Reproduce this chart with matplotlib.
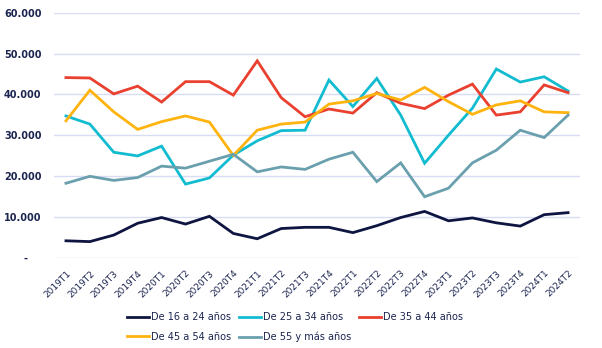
import numpy as np
import matplotlib.pyplot as plt
from matplotlib.ticker import FuncFormatter

quarters = ["2019T1", "2019T2", "2019T3", "2019T4", "2020T1", "2020T2", "2020T3", "2020T4",
            "2021T1", "2021T2", "2021T3", "2021T4", "2022T1", "2022T2", "2022T3", "2022T4",
            "2023T1", "2023T2", "2023T3", "2023T4", "2024T1", "2024T2"]

de_16_24 = [4100, 3900, 5500, 8400, 9800, 8200, 10100, 5900, 4600, 7100, 7400,
            7400, 6100, 7800, 9800, 11300, 9000, 9700, 8500, 7700, 10500, 11000]
de_25_34 = [34700, 32700, 25800, 24900, 27300, 18000, 19500, 25100, 28600, 31100, 31200,
            43500, 37000, 43900, 34900, 23100, 30000, 36600, 46200, 43000, 44300, 40800]
de_35_44 = [44100, 44000, 40100, 42000, 38100, 43100, 43100, 39800, 48200, 39200, 34500,
            36400, 35400, 40400, 37800, 36500, 39800, 42500, 34900, 35700, 42300, 40400]
de_45_54 = [33500, 41000, 35700, 31400, 33300, 34700, 33200, 25000, 31200, 32700, 33200,
            37600, 38400, 40200, 38600, 41700, 38200, 35100, 37400, 38400, 35700, 35500]
de_55_mas = [18200, 19900, 18900, 19600, 22400, 21900, 23600, 25300, 21000, 22200, 21600,
             24100, 25800, 18600, 23200, 14900, 17000, 23200, 26300, 31200, 29400, 34900]

series = [
    ("De 16 a 24 años", de_16_24, "#0e1540"),
    ("De 25 a 34 años", de_25_34, "#12bcd0"),
    ("De 35 a 44 años", de_35_44, "#e9402f"),
    ("De 45 a 54 años", de_45_54, "#ffb30f"),
    ("De 55 y más años", de_55_mas, "#6aa0ae"),
]

text_color = "#1c2550"
plt.rcParams["font.family"] = ["DejaVu Sans"]

fig = plt.figure(figsize=(6.02, 3.48), dpi=100)
ax = fig.add_axes([0.0897, 0.26, 0.8738, 0.7035])

x = np.arange(len(quarters))
handles = []
for name, vals, color in series:
    h, = ax.plot(x, vals, color=color, linewidth=2.0, label=name, solid_joinstyle="miter")
    handles.append(h)

ax.set_xlim(-0.5, len(quarters) - 0.5)
ax.set_ylim(0, 60000)
ax.set_yticks(np.arange(0, 60001, 10000))
ax.yaxis.set_major_formatter(FuncFormatter(
    lambda v, p: "-    " if v == 0 else f"{int(v):,}".replace(",", ".")))
ax.grid(axis="y", color="#d8dcf4", linewidth=1)
ax.set_axisbelow(True)
for s in ax.spines.values():
    s.set_visible(False)
ax.tick_params(axis="both", length=0, colors=text_color)
ax.tick_params(axis="y", pad=9)
for lab in ax.get_yticklabels():
    lab.set_fontsize(7)
    lab.set_fontweight("bold")

ax.set_xticks(x)
ax.set_xticklabels(quarters, rotation=45, ha="right", va="top",
                   rotation_mode="anchor", fontsize=6.5, color=text_color)
ax.tick_params(axis="x", pad=8)

order = [0, 3, 1, 4, 2]
fig.legend([handles[i] for i in order], [handles[i].get_label() for i in order],
           ncol=3, loc="center", bbox_to_anchor=(0.49, 0.06), frameon=False,
           fontsize=7, handlelength=2.3, handletextpad=0.2, columnspacing=0.8,
           labelspacing=1.0, labelcolor=text_color)

fig.savefig("out.png", dpi=100)
